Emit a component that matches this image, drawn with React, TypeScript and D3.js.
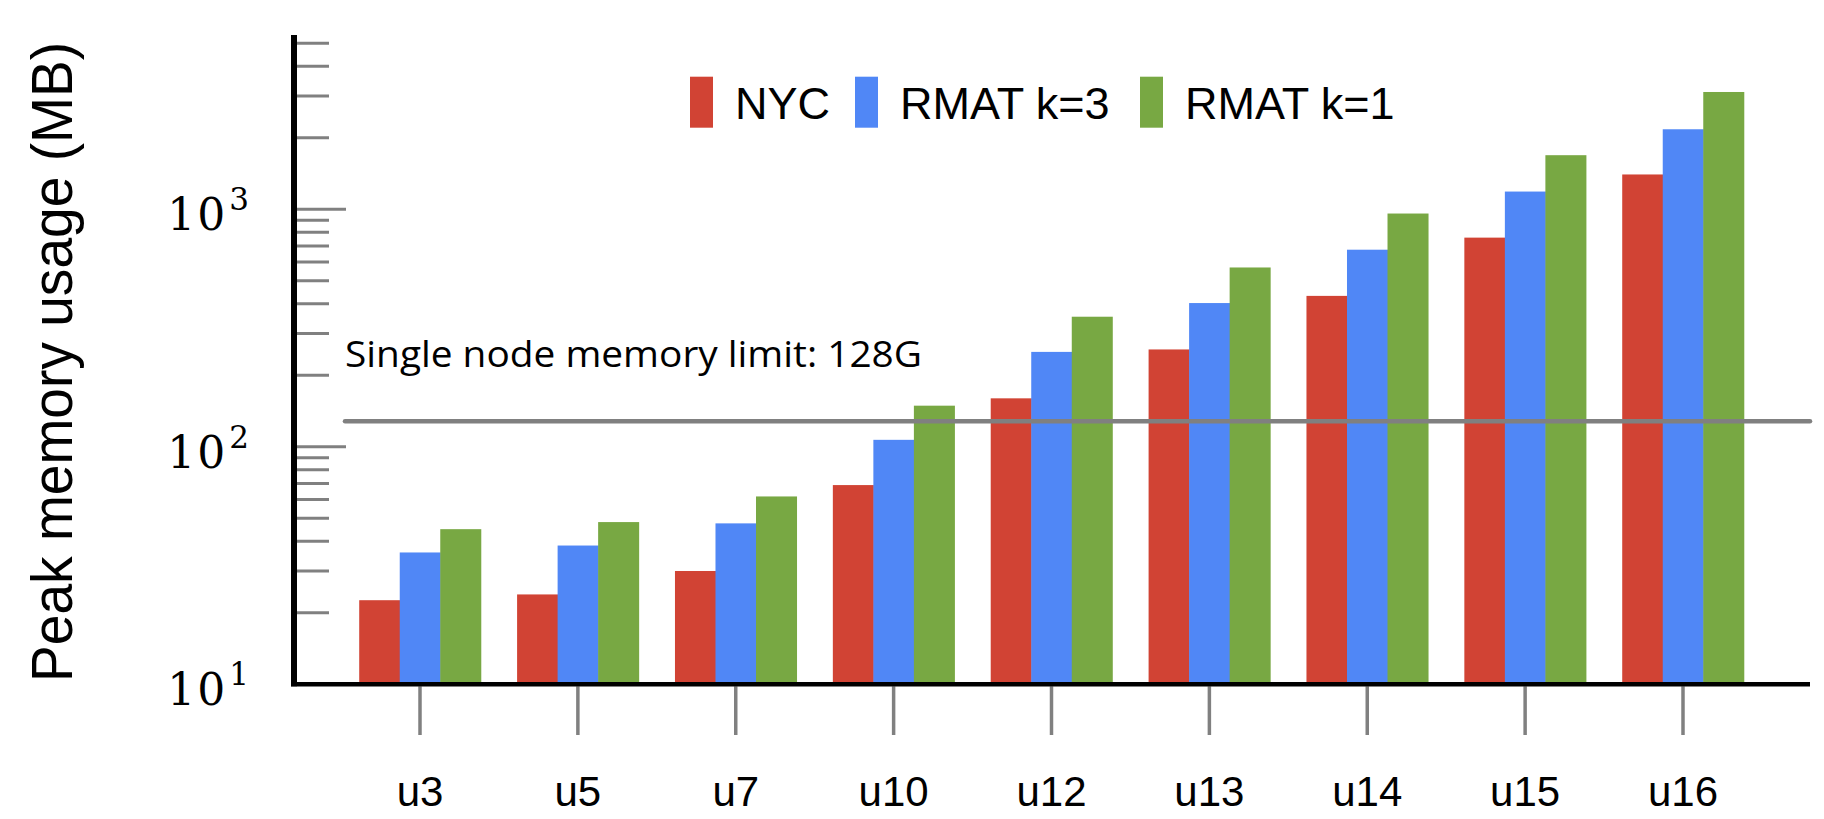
import React from 'react';
import * as d3 from 'd3';

const categories = ['u3', 'u5', 'u7', 'u10', 'u12', 'u13', 'u14', 'u15', 'u16'];
const seriesNames = ['NYC', 'RMAT k=3', 'RMAT k=1'];
const nyc = [22.6, 23.9, 30, 69, 160, 257, 432, 760, 1402];
const rmat3 = [35.9, 38.4, 47.6, 107, 251, 403, 676, 1188, 2173];
const rmat1 = [45, 48.2, 61.8, 149, 353, 569, 960, 1690, 3119];
const seriesValues = [nyc, rmat3, rmat1];
const colors = ['#d14334', '#5087f6', '#78a843'];
const memoryLimit = 128;
const limitLabel = 'Single node memory limit: 128G';
const majorTicks = [10, 100, 1000];
const yLabelExp = ['1', '2', '3'];

const W = 1824;
const H = 819;

export default function App() {
  const axisX = 294;
  const axisY = 684.3;
  const yTop = 35;
  const xEnd = 1810;

  const y = d3.scaleLog().domain([10, 5420]).range([axisY, yTop]);
  const x = d3
    .scaleBand()
    .domain(categories)
    .range([341.06, 1761.94])
    .paddingInner(0.23)
    .paddingOuter(0.115);
  const xs = d3
    .scaleBand()
    .domain(seriesNames)
    .range([0, x.bandwidth()]);

  const minorTicks = y.ticks().filter((t) => !majorTicks.includes(t) && t > 10);

  // legend positions
  const legendX = [690, 855, 1140];

  return (
    <svg
      width={W}
      height={H}
      style={{ position: 'absolute', left: 0, top: 0, background: '#fff' }}
    >
      <rect width={W} height={H} fill="#fff" />

      {/* bars */}
      {categories.map((c, i) => (
        <g key={c} transform={`translate(${x(c)},0)`}>
          {seriesNames.map((s, j) => (
            <rect
              key={s}
              x={xs(s)}
              y={y(seriesValues[j][i])}
              width={xs.bandwidth() + 0.5}
              height={axisY - y(seriesValues[j][i])}
              fill={colors[j]}
            />
          ))}
        </g>
      ))}

      {/* y ticks */}
      {minorTicks.map((t) => (
        <line key={t} x1={axisX} x2={329} y1={y(t)} y2={y(t)} stroke="#808080" strokeWidth={3} />
      ))}
      {majorTicks.map((t, i) => (
        <g key={t}>
          {t > 10 && (
            <line x1={axisX} x2={346} y1={y(t)} y2={y(t)} stroke="#808080" strokeWidth={3} />
          )}
          <text
            x={249}
            y={y(t) + 21}
            textAnchor="end"
            fontFamily="DejaVu Serif"
            fontSize={44}
            fill="#000"
          >
            <tspan letterSpacing={2}>10</tspan>
            <tspan dy={-20} dx={2} fontSize={31}>
              {yLabelExp[i]}
            </tspan>
          </text>
        </g>
      ))}

      {/* x ticks */}
      {categories.map((c) => {
        const cx = x(c)! + x.bandwidth() / 2;
        return (
          <g key={c}>
            <line x1={cx} x2={cx} y1={axisY + 2} y2={735} stroke="#808080" strokeWidth={3.5} />
            <text
              x={cx}
              y={806}
              textAnchor="middle"
              fontFamily="Liberation Sans, Arial, sans-serif"
              fontSize={42}
              fill="#000"
            >
              {c}
            </text>
          </g>
        );
      })}

      {/* axes */}
      <line x1={axisX} x2={axisX} y1={yTop} y2={axisY + 2} stroke="#000" strokeWidth={6} />
      <line x1={axisX - 3} x2={xEnd} y1={axisY} y2={axisY} stroke="#000" strokeWidth={4.5} />

      {/* memory limit */}
      <line
        x1={345}
        x2={1810}
        y1={y(memoryLimit)}
        y2={y(memoryLimit)}
        stroke="#808080"
        strokeWidth={4.5}
        strokeLinecap="round"
      />
      <text
        x={345}
        y={367}
        fontFamily="Open Sans, Noto Sans, sans-serif"
        fontSize={37}
        textLength={577}
        lengthAdjust="spacingAndGlyphs"
        fill="#000"
      >
        {limitLabel}
      </text>

      {/* legend */}
      {seriesNames.map((s, j) => (
        <g key={s}>
          <rect x={legendX[j]} y={76.7} width={23} height={51} fill={colors[j]} />
          <text
            x={legendX[j] + 45}
            y={119.3}
            fontFamily="Liberation Sans, Arial, sans-serif"
            fontSize={45}
            fill="#000"
          >
            {s}
          </text>
        </g>
      ))}

      {/* y title */}
      <text
        transform={`translate(71.7,362) rotate(-90)`}
        textAnchor="middle"
        fontFamily="Liberation Sans Narrow, Liberation Sans, Arial, sans-serif"
        fontSize={58}
        textLength={640}
        lengthAdjust="spacingAndGlyphs"
        fill="#000"
      >
        Peak memory usage (MB)
      </text>
    </svg>
  );
}
